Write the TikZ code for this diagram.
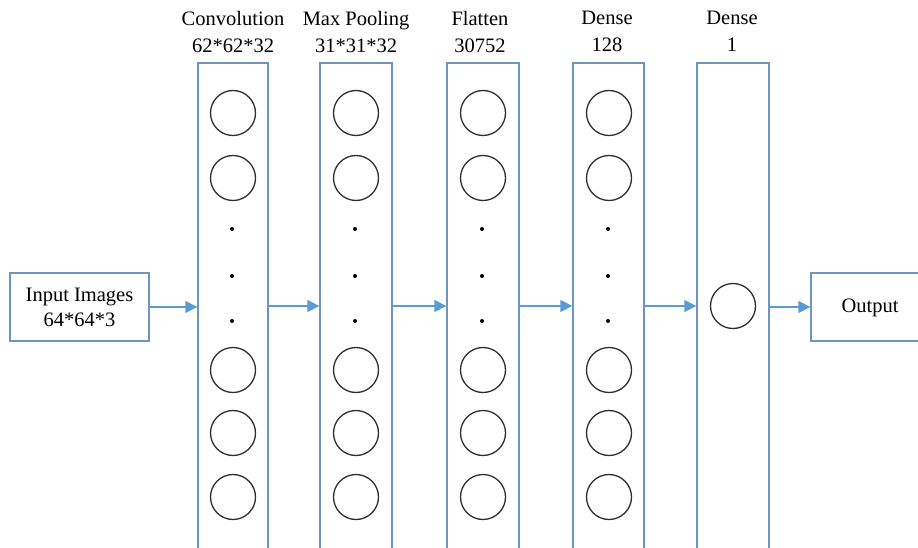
\documentclass[tikz,border=0pt]{standalone}
\usepackage{fontspec}
\setmainfont{Liberation Serif}
\usetikzlibrary{arrows.meta}
\definecolor{boxblue}{HTML}{6F94BF}
\definecolor{arrblue}{HTML}{5B9BD5}
\definecolor{circgray}{HTML}{2E2E2E}
\begin{document}
\begin{tikzpicture}[x=1pt,y=-1pt,
  txt/.style={font=\fontsize{20.5}{27}\selectfont, align=center, inner sep=0pt},
  col/.style={draw=boxblue, line width=1.3pt, minimum width=70pt, minimum height=540pt, inner sep=0pt},
  iobox/.style={draw=boxblue, line width=1.3pt, minimum height=68pt, inner sep=0pt, font=\fontsize{20.5}{25}\selectfont, align=center},
  neuron/.style={circle, draw=circgray, line width=1.3pt, minimum size=45pt, inner sep=0pt},
  dot/.style={circle, fill=black, minimum size=4pt, inner sep=0pt},
  arr/.style={draw=arrblue, line width=1.3pt, -{Triangle[length=12pt,width=12pt]}}
]
\useasboundingbox (0,0) rectangle (918,548);
\clip (0,0) rectangle (918,548);
% columns
\node[col] (c1) at (233,333) {};
\node[col, minimum width=72pt] (c2) at (356,333) {};
\node[col, minimum width=72pt] (c3) at (483,333) {};
\node[col, minimum width=71pt] (c4) at (608.5,333) {};
\node[col, minimum width=72pt] (c5) at (733,333) {};
% labels
\node[txt] (l1) at (233,31.5) {Convolution\\62*62*32};
\node[txt] (l2) at (356,31.5) {Max Pooling\\31*31*32};
\node[txt] (l3) at (480,31.5) {Flatten\\30752};
\node[txt] (l4) at (607,31.5) {Dense\\128};
\node[txt] (l5) at (732,31.5) {Dense\\1};
% neurons
\foreach \c/\x in {1/233,2/356,3/483,4/609}{
  \node[neuron] (n\c a) at (\x,113) {};
  \node[neuron] (n\c b) at (\x,178) {};
  \node[dot] (d\c a) at (\x-1,229) {};
  \node[dot] (d\c b) at (\x-1,276) {};
  \node[dot] (d\c c) at (\x-1,321) {};
  \node[neuron] (n\c c) at (\x,370) {};
  \node[neuron] (n\c d) at (\x,433) {};
  \node[neuron] (n\c e) at (\x,497) {};
}
\node[neuron] (n5) at (733,306) {};
% input / output
\node[iobox, minimum width=139pt] (in) at (79.5,307) {Input Images\\64*64*3};
\node[iobox, minimum width=118pt, text height=10pt, text depth=0pt] (out) at (870,307) {Output};
\coordinate (ay) at (0,306);
% arrows
\draw[arr] (in.east) -- (in.east -| c1.west);
\draw[arr] (c1.east |- ay) -- (c2.west |- ay);
\draw[arr] (c2.east |- ay) -- (c3.west |- ay);
\draw[arr] (c3.east |- ay) -- (c4.west |- ay);
\draw[arr] (c4.east |- ay) -- (c5.west |- ay);
\draw[arr] (c5.east |- out.west) -- (out.west);
\end{tikzpicture}
\end{document}
